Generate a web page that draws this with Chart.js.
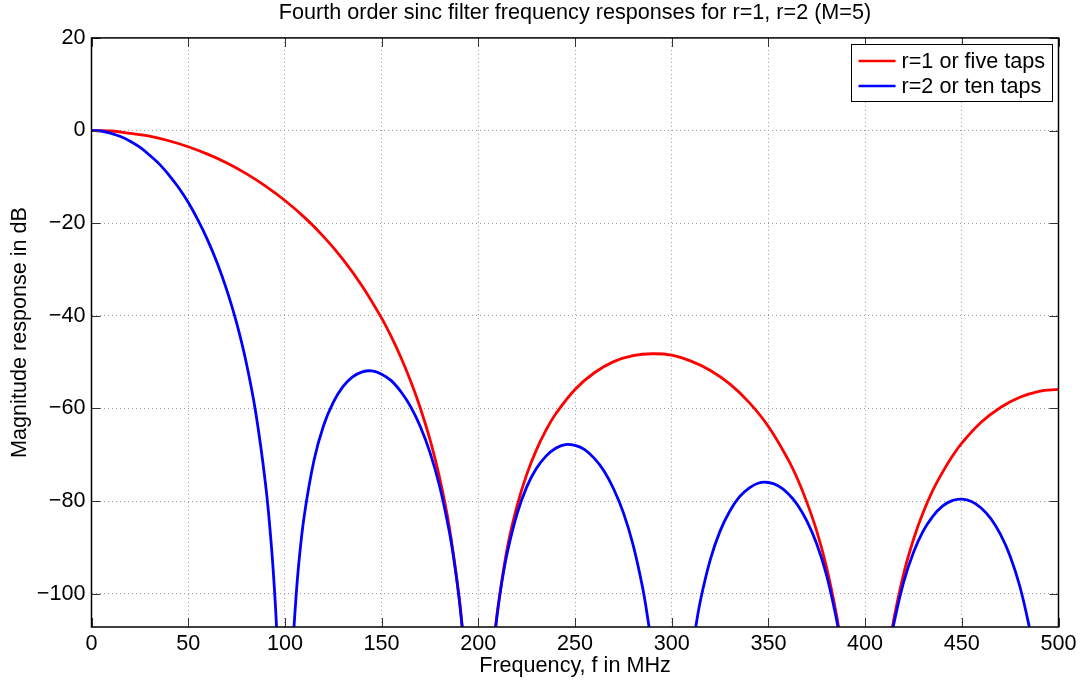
<!DOCTYPE html>
<html>
<head>
<meta charset="utf-8">
<title>Fourth order sinc filter</title>
<script src="https://cdn.jsdelivr.net/npm/chart.js@4.4.1/dist/chart.umd.min.js"></script>
<style>
  html, body { margin: 0; padding: 0; background: #fff; }
  #wrap { width: 1092px; height: 686px; }
</style>
</head>
<body>
<div id="wrap"><canvas id="sincChart"></canvas></div>
<script>
// values (MHz, dB); null = null of the response, curve leaves the axes
const freqRed = [0, 10, 20, 30, 40, 50, 60, 70, 80, 90, 100, 110, 120, 130, 140, 150, 155, 160, 165, 170, 175, 180, 185, 190, 192,
  200, 208, 210, 215, 220, 225, 230, 235, 240, 250, 260, 270, 280, 290, 300, 310, 320, 330, 340, 350, 360, 365, 370, 375, 380, 385, 388,
  400, 412, 415, 420, 425, 430, 435, 440, 445, 450, 460, 470, 480, 490, 500];
const dbRed = [0, -0.1, -0.6, -1.2, -2.2, -3.5, -5.1, -7.0, -9.3, -12.0, -15.1, -18.7, -22.9, -27.8, -33.6, -40.5, -44.5, -49.0, -54.1, -59.9, -66.7, -75.0, -85.6, -100.4, -108.4,
  null, -110.8, -103.4, -90.1, -81.1, -74.3, -69.0, -64.7, -61.2, -55.9, -52.3, -49.9, -48.6, -48.2, -48.5, -49.8, -51.8, -54.7, -58.7, -63.9, -70.9, -75.2, -80.4, -86.5, -94.2, -104.1, -111.9,
  null, -112.8, -105.2, -95.6, -88.3, -82.5, -77.7, -73.8, -70.4, -67.5, -63.0, -59.8, -57.6, -56.3, -55.9];

const freqBlue = [0, 5, 10, 15, 20, 25, 30, 35, 40, 45, 50, 55, 60, 65, 70, 75, 80, 85, 90, 93, 95, 96,
  100, 104, 105, 107, 110, 115, 120, 125, 130, 135, 140, 145, 150, 155, 160, 165, 170, 175, 180, 185, 188, 190, 192,
  200, 208, 210, 212, 215, 220, 225, 230, 235, 240, 245, 250, 255, 260, 265, 270, 275, 280, 285, 288, 289,
  300, 311, 312, 315, 320, 325, 330, 335, 340, 345, 350, 355, 360, 365, 370, 375, 380, 385, 387,
  400, 413, 415, 420, 425, 430, 435, 440, 445, 450, 455, 460, 465, 470, 475, 480, 485, 487, 500];
const dbBlue = [0, -0.1, -0.6, -1.3, -2.3, -3.6, -5.3, -7.2, -9.6, -12.3, -15.5, -19.3, -23.6, -28.6, -34.5, -41.5, -50.1, -61.1, -76.4, -89.6, -101.9, -110.0,
  null, -112.7, -105.3, -94.3, -83.2, -71.3, -63.7, -58.7, -55.3, -53.2, -52.1, -51.9, -52.6, -54.0, -56.4, -59.6, -63.9, -69.5, -76.8, -86.6, -94.4, -100.8, -108.6,
  null, -111.0, -103.8, -98.0, -91.1, -82.8, -77.0, -73.0, -70.3, -68.6, -67.8, -68.0, -68.9, -70.8, -73.5, -77.4, -82.5, -89.4, -98.8, -106.4, -109.3,
  null, -111.1, -108.3, -101.2, -92.6, -86.5, -82.2, -79.1, -77.2, -76.1, -76.0, -76.7, -78.3, -80.8, -84.4, -89.3, -95.9, -105.1, -109.8,
  null, -110.8, -106.2, -97.4, -91.1, -86.5, -83.3, -81.1, -79.9, -79.6, -80.1, -81.5, -83.8, -87.2, -91.9, -98.4, -107.4, -112.1, null];

const seriesLabels = ['r=1 or five taps', 'r=2 or ten taps'];
const seriesColors = ['#ff0000', '#0000ff'];

const FONT = '"Liberation Sans", Arial, Helvetica, sans-serif';
const FONT_SIZE = 21.6;
Chart.defaults.font.family = FONT;
Chart.defaults.color = '#000';

const toPoints = (xs, ys) => xs.map((f, i) => ({ x: f, y: ys[i] }));

// MATLAB style box, inward ticks and boxed legend in the upper right corner
const matlabAxes = {
  id: 'matlabAxes',
  afterDatasetsDraw(chart) {
    const { ctx, chartArea: a, scales: { x, y } } = chart;
    ctx.save();
    ctx.strokeStyle = '#333';
    ctx.lineWidth = 1;
    ctx.beginPath();
    x.ticks.forEach(t => {
      const px = Math.round(x.getPixelForValue(t.value)) + 0.5;
      ctx.moveTo(px, a.bottom); ctx.lineTo(px, a.bottom - 9);
      ctx.moveTo(px, a.top); ctx.lineTo(px, a.top + 9);
    });
    y.ticks.forEach(t => {
      const py = Math.round(y.getPixelForValue(t.value)) + 0.5;
      ctx.moveTo(a.left, py); ctx.lineTo(a.left + 9, py);
      ctx.moveTo(a.right, py); ctx.lineTo(a.right - 9, py);
    });
    ctx.stroke();
    ctx.strokeStyle = '#000';
    ctx.lineWidth = 1.5;
    ctx.strokeRect(a.left, a.top, a.right - a.left, a.bottom - a.top);

    // legend
    ctx.font = FONT_SIZE + 'px ' + FONT;
    const sets = chart.data.datasets;
    const textW = Math.max(...sets.map(d => ctx.measureText(d.label).width));
    const w = 51 + textW + 7, h = 57;
    const left = a.right - 6.5 - w, top = a.top + 6;
    ctx.fillStyle = '#fff';
    ctx.fillRect(left, top, w, h);
    ctx.lineWidth = 1;
    ctx.strokeStyle = '#000';
    ctx.strokeRect(Math.round(left) + 0.5, Math.round(top) + 0.5, Math.round(w), h);
    sets.forEach((d, i) => {
      const cy = top + 17 + i * 25;
      ctx.strokeStyle = d.borderColor;
      ctx.lineWidth = 2.5;
      ctx.beginPath();
      ctx.moveTo(left + 8, cy); ctx.lineTo(left + 45, cy);
      ctx.stroke();
      ctx.fillStyle = '#000';
      ctx.textBaseline = 'middle';
      ctx.textAlign = 'left';
      ctx.fillText(d.label, left + 51, cy + 1);
    });
    ctx.restore();
  }
};

new Chart(document.getElementById('sincChart'), {
  type: 'line',
  data: {
    datasets: [
      {
        label: seriesLabels[0],
        data: toPoints(freqRed, dbRed),
        borderColor: seriesColors[0],
        borderWidth: 2.8,
        pointRadius: 0,
        tension: 0.4,
        spanGaps: false,
        order: 2
      },
      {
        label: seriesLabels[1],
        data: toPoints(freqBlue, dbBlue),
        borderColor: seriesColors[1],
        borderWidth: 2.8,
        pointRadius: 0,
        tension: 0.4,
        spanGaps: false,
        order: 1
      }
    ]
  },
  options: {
    responsive: true,
    maintainAspectRatio: false,
    animation: false,
    layout: { padding: { left: 0, right: 33.5, top: 0, bottom: 0 } },
    plugins: {
      legend: { display: false },
      tooltip: { enabled: false },
      title: {
        display: true,
        fullSize: false,
        text: 'Fourth order sinc filter frequency responses for r=1, r=2 (M=5)',
        color: '#000',
        font: { size: FONT_SIZE, weight: 'normal', lineHeight: 1.2 },
        padding: { top: 0, bottom: 12 }
      }
    },
    scales: {
      x: {
        type: 'linear',
        min: 0,
        max: 500,
        afterFit: s => { s.height = 59; },
        ticks: { stepSize: 50, padding: 4, font: { size: FONT_SIZE }, color: '#000', maxRotation: 0 },
        grid: { color: '#9a9a9a', lineWidth: 1, drawTicks: false },
        border: { display: false, dash: [1, 3] },
        title: {
          display: true,
          text: 'Frequency, f in MHz',
          font: { size: FONT_SIZE },
          color: '#000',
          padding: { top: 0, bottom: 7 }
        }
      },
      y: {
        min: -107.2,
        max: 20,
        afterFit: s => { s.width = 91.5; },
        ticks: {
          stepSize: 20,
          includeBounds: false,
          padding: 6,
          font: { size: FONT_SIZE },
          color: '#000',
          callback: v => String(v).replace('-', '\u2212')
        },
        grid: { color: '#9a9a9a', lineWidth: 1, drawTicks: false },
        border: { display: false, dash: [1, 3] },
        title: {
          display: true,
          text: 'Magnitude response in dB',
          font: { size: FONT_SIZE },
          color: '#000',
          padding: { top: 7, bottom: 0 }
        }
      }
    }
  },
  plugins: [matlabAxes]
});
</script>
</body>
</html>
